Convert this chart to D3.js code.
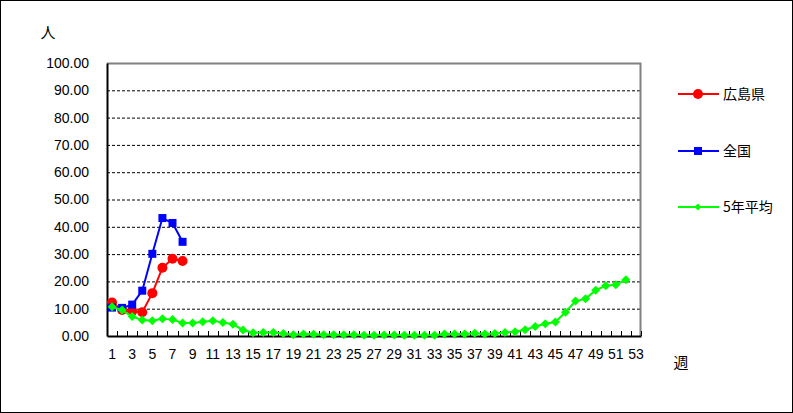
<!DOCTYPE html>
<html><head><meta charset="utf-8">
<script src="https://cdn.jsdelivr.net/npm/d3@7"></script>
<style>
html,body{margin:0;padding:0;background:#fff;}
svg{display:block;}
text{font-family:"Liberation Sans",Arial,sans-serif;}
.jp{font-family:"Noto Sans CJK JP","Liberation Sans",sans-serif;}
</style></head>
<body>
<svg id="c" width="793" height="413"></svg>
<script>
const weeks = d3.range(1, 54);
const hiroshima = [12.3, 9.5, 9.1, 8.7, 15.7, 25.0, 28.3, 27.5];
const zenkoku = [10.4, 10.3, 11.5, 16.6, 30.1, 43.2, 41.4, 34.5];
const avg5 = [10.7, 9.5, 7.1, 5.9, 5.6, 6.3, 6.0, 4.8, 4.8, 5.2, 5.6, 4.9, 4.3, 2.2, 1.2, 1.3,
  1.3, 0.9, 0.5, 0.7, 0.6, 0.5, 0.5, 0.5, 0.5, 0.3, 0.3, 0.4, 0.4, 0.3, 0.3, 0.3, 0.3, 0.7,
  0.7, 0.7, 1.0, 0.7, 0.9, 1.3, 1.6, 2.3, 3.5, 4.5, 5.1, 8.7, 12.8, 13.6, 16.8, 18.4, 18.8, 20.6];
const yTicks = [0, 10, 20, 30, 40, 50, 60, 70, 80, 90, 100];
const seriesNames = ["広島県", "全国", "5年平均"];

const svg = d3.select("#c");
svg.append("rect").attr("x", 0.5).attr("y", 0.5).attr("width", 792).attr("height", 412)
  .attr("fill", "#fff").attr("stroke", "#000");

const L = 107, R = 641, T = 63, B = 336;
const x = d3.scaleBand().domain(weeks).range([L, R]);
const y = d3.scaleLinear().domain([0, 100]).range([B, T]);
const cx = w => x(w) + x.bandwidth() / 2;

// grid
svg.append("g").selectAll("line").data(yTicks.filter(v => v > 0 && v < 100)).join("line")
  .attr("x1", L).attr("x2", R).attr("y1", d => y(d) + 0.5).attr("y2", d => y(d) + 0.5)
  .attr("stroke", "#000").attr("stroke-dasharray", "3,2");
// plot border (top/right gray)
svg.append("path").attr("d", `M${L},${T + 0.5}H${R - 0.5}V${B}`).attr("fill", "none")
  .attr("stroke", "#808080").attr("stroke-width", 2);

// y axis
const yAxis = d3.axisLeft(y).tickValues(yTicks).tickSize(0).tickPadding(18).tickFormat(d3.format(".2f"));
const gy = svg.append("g").attr("transform", `translate(${L},0)`).call(yAxis);
gy.select(".domain").attr("stroke", "#000").attr("stroke-width", 2);
gy.selectAll("text").attr("font-size", 14).attr("fill", "#000")
  .attr("font-family", "'Liberation Sans',Arial,sans-serif");

// x axis
const xAxis = d3.axisBottom(x).tickValues(weeks.filter(w => w % 2 === 1)).tickSize(0).tickPadding(13);
const gx = svg.append("g").attr("transform", `translate(0,${B})`).call(xAxis);
gx.select(".domain").attr("stroke", "#000").attr("stroke-width", 2);
gx.selectAll("text").attr("font-size", 14).attr("fill", "#000")
  .attr("font-family", "'Liberation Sans',Arial,sans-serif");
// inward tick marks at category boundaries
svg.append("g").selectAll("line").data(d3.range(0, weeks.length + 1)).join("line")
  .attr("x1", i => Math.round(L + i * x.step()) + 0.5).attr("x2", i => Math.round(L + i * x.step()) + 0.5)
  .attr("y1", B - 5).attr("y2", B).attr("stroke", "#000");

svg.append("text").attr("class", "jp").attr("x", 48).attr("y", 38).attr("text-anchor", "middle")
  .attr("font-size", 15).text("人");
svg.append("text").attr("class", "jp").attr("x", 681).attr("y", 368).attr("text-anchor", "middle")
  .attr("font-size", 15).text("週");

const line = d3.line().x((d, i) => cx(weeks[i])).y(d => y(d));
const colors = ["#FF0000", "#0000FF", "#00FF00"];
const data = [hiroshima, zenkoku, avg5];

function marker(g, type, color, px, py, s) {
  if (type === 0) g.append("circle").attr("cx", px).attr("cy", py).attr("r", s).attr("fill", color);
  else if (type === 1) g.append("rect").attr("x", px - s).attr("y", py - s).attr("width", 2 * s).attr("height", 2 * s).attr("fill", color);
  else g.append("path").attr("d", `M${px},${py - s}L${px + s},${py}L${px},${py + s}L${px - s},${py}Z`).attr("fill", color);
}
const sizes = [5, 4, 4.5];
// draw order: red, then blue, then green on top
[0, 1, 2].forEach(k => {
  const g = svg.append("g");
  g.append("path").attr("d", line(data[k])).attr("fill", "none").attr("stroke", colors[k]).attr("stroke-width", 2);
  data[k].forEach((v, i) => marker(g, k, colors[k], cx(weeks[i]), y(v), sizes[k]));
});

// legend
const legY = [94, 151, 207];
const lsz = [5, 4, 3.5];
seriesNames.forEach((n, k) => {
  const g = svg.append("g");
  g.append("line").attr("x1", 678).attr("x2", 719).attr("y1", legY[k]).attr("y2", legY[k])
    .attr("stroke", colors[k]).attr("stroke-width", 2);
  marker(g, k, colors[k], 698, legY[k], lsz[k]);
  g.append("text").attr("class", "jp").attr("x", 723).attr("y", legY[k] + 5).attr("font-size", 14).text(n);
});
</script>
</body></html>
